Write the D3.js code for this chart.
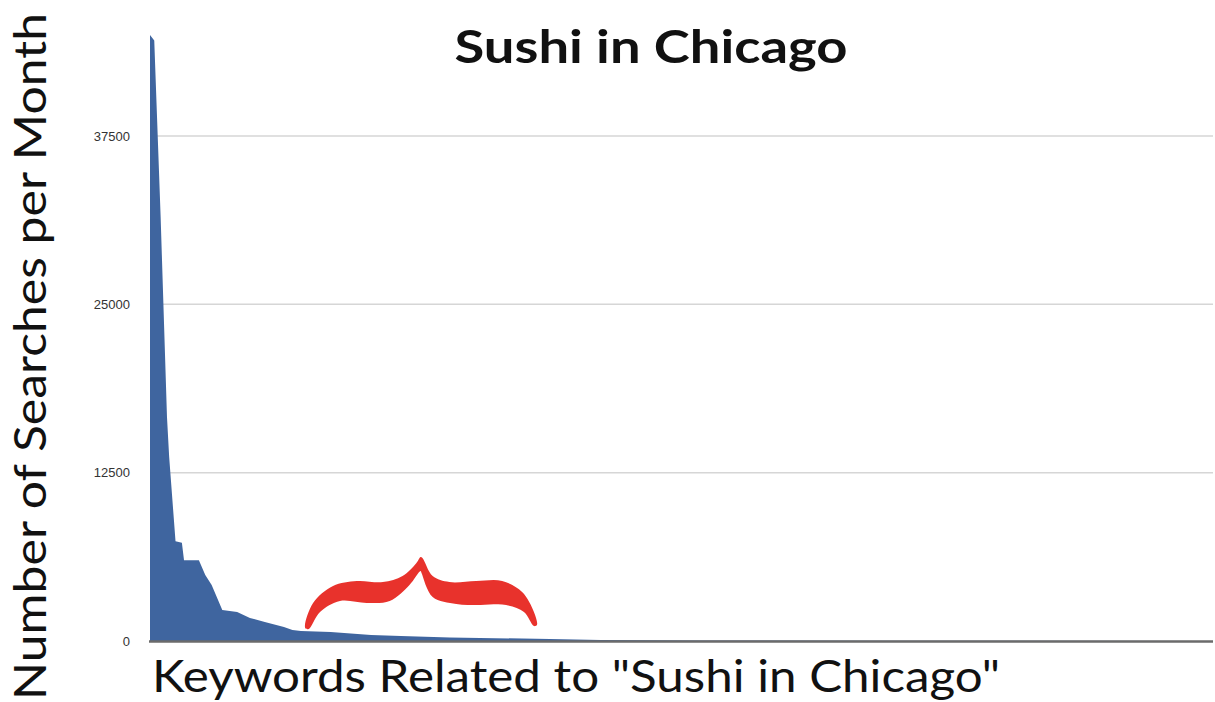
<!DOCTYPE html>
<html>
<head>
<meta charset="utf-8">
<script src="https://cdn.jsdelivr.net/npm/d3@7"></script>
<style>
  html, body { margin: 0; padding: 0; background: #fff; }
  svg { display: block; }
</style>
</head>
<body>
<svg id="chart" width="1215" height="702"></svg>
<script>
// Keyword rank (sorted by search volume) and monthly searches
const keywordRank = [0, 2, 5, 8, 9, 10, 12, 15, 16, 23, 26, 29, 34, 41, 47, 54, 63, 67, 71, 85, 104, 118, 141, 188, 212, 260, 350, 500];
const searches    = [45000, 44600, 31500, 16600, 13700, 11600, 7400, 7300, 6000, 6000, 4900, 4160, 2300, 2150, 1710, 1410, 1040, 820, 740, 670, 450, 370, 260, 150, 75, 40, 20, 5];
const yTicks = [0, 12500, 25000, 37500];
const gridTicks = [12500, 25000, 37500];
const titleText = "Sushi in Chicago";
const xTitle = 'Keywords Related to "Sushi in Chicago"';
const yTitle = "Number of Searches per Month";
// highlighted "long tail" span, in keyword ranks
const braceSpan = [73, 182];

const svg = d3.select("#chart");
const x = d3.scaleLinear().domain([0, 500]).range([150, 1213]);
const y = d3.scaleLinear().domain([0, 37500]).range([641, 136]);

// gridlines
svg.append("g").selectAll("line").data(gridTicks).join("line")
  .attr("x1", x(0)).attr("x2", x(500))
  .attr("y1", d => y(d)).attr("y2", d => y(d))
  .attr("stroke", "#d6d6d6").attr("stroke-width", 1.5);

// area
const data = keywordRank.map((r, i) => ({ r, v: searches[i] }));
svg.append("path").datum(data)
  .attr("fill", "#3f659f")
  .attr("d", d3.area().x(d => x(d.r)).y0(y(0)).y1(d => y(d.v)));

// x axis line
svg.append("line")
  .attr("x1", x(0) - 1).attr("x2", x(500))
  .attr("y1", y(0) + 0.5).attr("y2", y(0) + 0.5)
  .attr("stroke", "#6b6b6b").attr("stroke-width", 2.5);

// y tick labels
const yAxis = d3.axisLeft(y).tickValues(yTicks).tickSize(0).tickPadding(20).tickFormat(d3.format("d"));
const ga = svg.append("g").attr("transform", `translate(${x(0)},0)`).call(yAxis);
ga.select(".domain").remove();
ga.selectAll("text").attr("font-family", "Liberation Sans, Arial, sans-serif")
  .attr("font-size", 13).attr("fill", "#333");

// title
svg.append("text").attr("x", 651).attr("y", 63).attr("text-anchor", "middle")
  .attr("font-family", "Lato, sans-serif").attr("font-weight", "bold")
  .attr("font-size", 45).attr("fill", "#111")
  .attr("textLength", 393).attr("lengthAdjust", "spacingAndGlyphs")
  .text(titleText);

// x title
svg.append("text").attr("x", 152).attr("y", 692)
  .attr("font-family", "Lato, sans-serif").attr("font-size", 45).attr("fill", "#111")
  .attr("textLength", 848).attr("lengthAdjust", "spacingAndGlyphs")
  .text(xTitle);

// y title
svg.append("text").attr("transform", "translate(46,700) rotate(-90)")
  .attr("font-family", "Lato, sans-serif").attr("font-size", 45).attr("fill", "#111")
  .attr("textLength", 687).attr("lengthAdjust", "spacingAndGlyphs")
  .text(yTitle);

// red brace annotation (shape in normalized width units, px offsets down from its top)
const braceShape = [
  [0, 71], [0.034, 46], [0.12, 29], [0.223, 24], [0.335, 25], [0.42, 19], [0.48, 6], [0.498, 0],
  [0.506, 1], [0.55, 19], [0.622, 25], [0.738, 24], [0.85, 24], [0.936, 35], [0.987, 55], [1, 68],
  [0.987, 69], [0.944, 55], [0.867, 48], [0.751, 48], [0.652, 47], [0.55, 40], [0.502, 16],
  [0.498, 14], [0.45, 28], [0.365, 44], [0.266, 46], [0.15, 44], [0.064, 55], [0.015, 72]
];
const bx0 = x(braceSpan[0]), bx1 = x(braceSpan[1]), btop = 557;
svg.append("path")
  .attr("fill", "#e8322c")
  .attr("d", d3.line()
    .x(d => bx0 + d[0] * (bx1 - bx0))
    .y(d => btop + d[1])
    .curve(d3.curveCatmullRomClosed)(braceShape));
</script>
</body>
</html>
